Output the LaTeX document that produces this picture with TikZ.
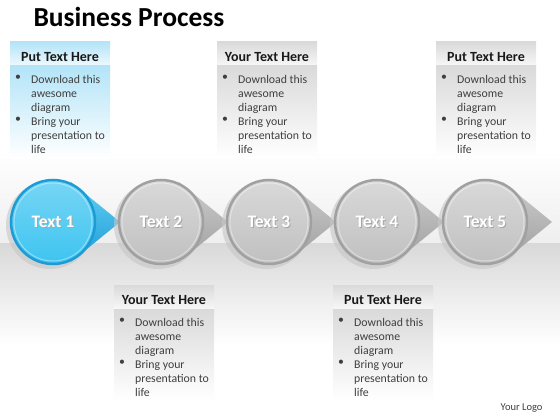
\documentclass[tikz,border=0pt]{standalone}
\usepackage{fontspec}
\setmainfont{Carlito}
\usetikzlibrary{positioning}

\definecolor{skyblue}{HTML}{3DC4F0}
\definecolor{deepblue}{HTML}{1C9CD6}
\definecolor{paleblue}{HTML}{B3E4F8}
\definecolor{ringgray}{HTML}{A0A0A0}
\definecolor{discgray}{HTML}{C0C0C0}
\definecolor{boxgray}{HTML}{DADADA}
\definecolor{inkgray}{HTML}{3F3F3F}

\tikzset{
  disc/.style={circle, minimum size=84pt, inner sep=0pt, line width=2.5pt},
  blue disc/.style={disc, draw=deepblue, top color=skyblue!70!white, bottom color=skyblue},
  gray disc/.style={disc, draw=ringgray, top color=discgray!60!white, bottom color=discgray},
  blue arrow/.style={top color=skyblue!80!white, bottom color=deepblue},
  gray arrow/.style={top color=gray!40, bottom color=gray!75},
  disclabel/.style={font=\fontsize{17.5}{17.5}\selectfont\bfseries, text=white},
  discshadow/.style={font=\fontsize{17.5}{17.5}\selectfont\bfseries, text=gray!70},
  headtext/.style={font=\fontsize{14}{16}\selectfont\bfseries, text=black!90},
  bodytext/.style={font=\fontsize{11.8}{14}\selectfont, text=inkgray, align=left,
    inner sep=0pt, anchor=north west},
}

% #1 name, #2 left, #3 top, #4 heading, #5 tint
\newcommand{\infobox}[5]{%
  \shade[top color=#5, bottom color=#5!20!white] (#2,#3) rectangle ++(100,24);
  \shade[top color=#5, bottom color=white] (#2,{#3+24}) rectangle ++(100,92);
  \node[headtext] (#1h) at ({#2+50},{#3+15}) {#4};
  \node[bodytext] (#1d) at ({#2+5},{#3+33}) {\textbullet\\\strut\\\strut\\\textbullet};
  \node[bodytext] (#1t) at ({#2+21},{#3+33})
    {Download this\\awesome\\diagram\\Bring your\\presentation to\\life};
}

\begin{document}
\begin{tikzpicture}[x=1pt, y=-1pt]
  \useasboundingbox (0,0) rectangle (560,420);
  % Background band
  \shade[top color=white, bottom color=gray!13] (0,150) rectangle (560,243);
  \shade[top color=gray!30, bottom color=white] (0,243) rectangle (560,345);

  % Title
  \node[anchor=west, font=\fontsize{27.5}{27.5}\selectfont\bfseries] (title) at (30,17) {Business Process};

  % Text boxes
  \infobox{p1}{10}{42}{Put Text Here}{paleblue}
  \infobox{p3}{217}{42}{Your Text Here}{boxgray}
  \infobox{p5}{436}{42}{Put Text Here}{boxgray}
  \infobox{p2}{114}{285}{Your Text Here}{boxgray}
  \infobox{p4}{333}{285}{Put Text Here}{boxgray}

  % Discs with arrows
  \foreach \i/\cx/\kind in {1/53/blue, 2/161/gray, 3/269/gray, 4/377/gray, 5/485/gray} {
    \shade[\kind\space arrow] (\cx+18,182) -- (\cx+67,222) -- (\cx+18,262) -- cycle;
    \fill[gray!45, opacity=.6] (\cx-3,225) circle (44);
    \node[\kind\space disc] (c\i) at (\cx,222) {};
    \draw[white, opacity=.4, line width=1pt] (c\i) circle (39);
    \node[discshadow] (s\i) at (\cx+1,223) {Text \i};
    \node[disclabel] (t\i) at (c\i) {Text \i};
  }

  % Logo
  \node[anchor=east, font=\fontsize{10.5}{10.5}\selectfont, text=inkgray] (logo) at (546,408) {Your Logo};
\end{tikzpicture}
\end{document}
